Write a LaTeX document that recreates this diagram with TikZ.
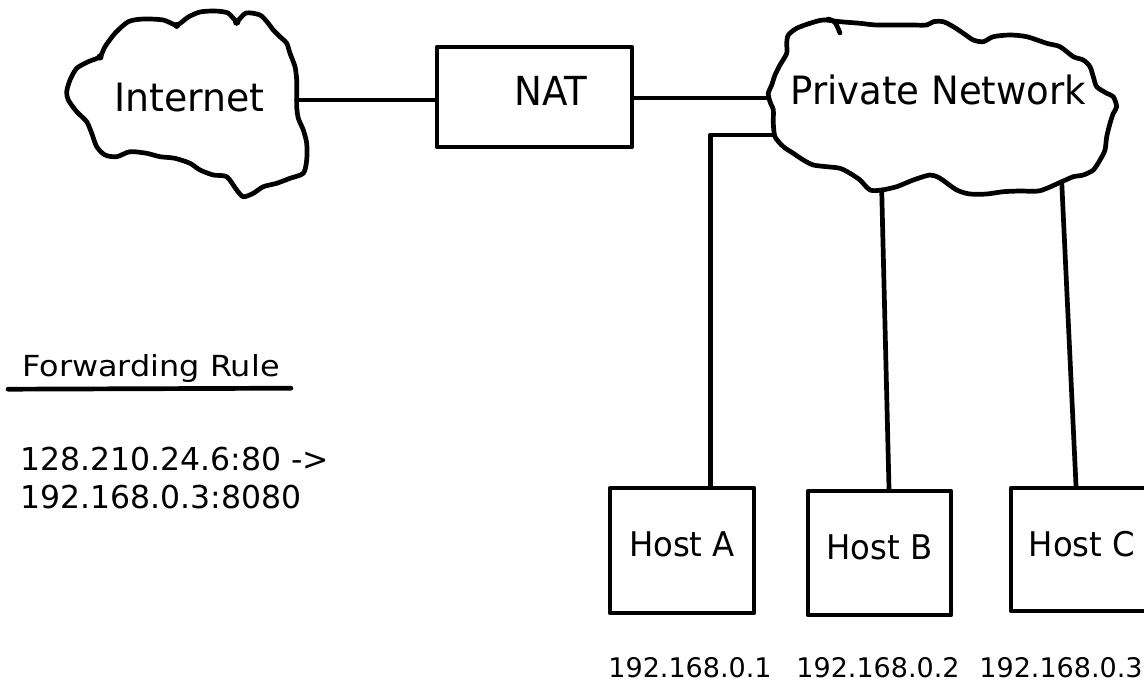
\documentclass[tikz,border=0pt]{standalone}
\usepackage{fontspec}
\setmainfont{DejaVu Sans}
\usetikzlibrary{calc}
\newcommand{\tx}[3]{\scalebox{#2}[1]{\fontsize{#1}{#1}\selectfont #3}}
\begin{document}
\begin{tikzpicture}[x=1pt,y=-1pt, line width=4.7pt, line join=round, line cap=round,
  box/.style={draw, rectangle, inner sep=0pt, line width=4.7pt},
  lbl/.style={inner sep=0pt, anchor=base},
  cloud/.style={line width=4.7pt}]
\useasboundingbox (0,0) rectangle (1144,685);

% Internet cloud
\draw[cloud] plot[smooth cycle, tension=0.45] coordinates {
(100,56.7) (105,46.7) (115,33.3) (128.3,21.7) (143.3,19) (163.3,20) (176.7,25)
(188.3,17) (200,12) (215,11) (228,13) (236.7,21) (246,13) (260,15) (268,23)
(273.3,30) (280,36.7) (286.7,43.3) (290,53.3) (295,66.7) (296.7,80) (296.7,93.3)
(296.7,106.7) (298.3,118.3) (303.3,130) (306.7,143.3) (306.7,160) (303.3,173.3)
(290,178.3) (276.7,183.3) (263.3,186.7) (253.3,193.3) (243.3,196.7) (236.7,190)
(226.7,176.7) (213.3,175) (200,170) (190,163.3) (175,158.3) (160,156.7)
(146.7,153.3) (130,151.7) (116.7,156.7) (105,155) (96.7,146.7) (91.7,133.3)
(86.7,121.7) (76.7,111.7) (68.3,100) (66.7,91.7) (70,80) (76.7,68.3) (88.3,61.7)};
\fill (100,57) circle (3.6);
\fill (176.7,25.5) circle (3.4);
\fill (236.7,22) circle (3.8);

% Private network cloud
\draw[cloud] plot[smooth cycle, tension=0.45] coordinates {
(823.3,20) (810,23.3) (796.7,28.3) (788.3,35) (786.7,43.3) (786.7,53.3) (780,65)
(775,75) (771.7,85) (768.3,93.3) (770,101.7) (773.3,110) (773.3,123.3) (775,136.7)
(783.3,146.7) (793.3,153.3) (803.3,160) (813.3,165) (826.7,166.7) (840,168.3)
(850,173.3) (860,180) (870,190) (881.7,190) (896.7,186.7) (913.3,180) (930,175)
(940,178.3) (956.7,190) (970,194) (986.7,194) (1003.3,191.7) (1020,191)
(1040,190.7) (1061.7,181.7) (1073.3,176.7) (1083.3,175) (1093.3,170) (1100,160)
(1105,150) (1106.7,136.7) (1110,123.3) (1113.3,113.3) (1116.7,106.7) (1113.3,96.7)
(1106.7,93.3) (1096.7,86.7) (1093.3,76.7) (1090,66.7) (1083.3,60) (1073.3,56.7)
(1060,46.7) (1046.7,43.3) (1026.7,36.7) (1010,35) (993.3,36.7) (983.3,41.7)
(973.3,40) (963.3,33.3) (953.3,26.7) (943.3,21.7) (933.3,21.7) (926.7,25)
(910,25) (876.7,25) (860,23.3) (840,21.7)};
\draw[cloud] (828,19) .. controls (835,21) .. (840,33);

% text in clouds
\node[lbl] (inettext) at (189.2,111.7) {\tx{39}{0.97}{Internet}};
\node[lbl] (pntext) at (938.3,105) {\tx{39}{0.95}{Private Network}};

% NAT box
\node[box, minimum width=195pt, minimum height=100pt, text depth=11.2pt] (nat) at (534.5,97)
  {\hspace*{32.6pt}\tx{40}{0.93}{NAT}};

% hosts
\node[box, minimum width=144pt, minimum height=125pt, text depth=12pt] (hostA) at (682,550.5)
  {\tx{34}{0.95}{Host A}};
\node[box, minimum width=143pt, minimum height=124pt, text depth=12pt] (hostB) at (879.5,553)
  {\tx{34}{0.95}{Host B}};
\node[box, minimum width=142pt, minimum height=123pt, text depth=12pt] (hostC) at (1082,549.5)
  {\tx{34}{0.95}{Host C}};

% IP labels
\node[lbl] (ipA) at (690,677) {\tx{27}{1}{192.168.0.1}};
\node[lbl] (ipB) at (878,677) {\tx{27}{1}{192.168.0.2}};
\node[lbl] (ipC) at (1061,677) {\tx{27}{1}{192.168.0.3}};

% connection points on clouds
\coordinate (inetR) at (296.7,100);
\coordinate (pnL) at (766,98);
\coordinate (pnA) at (773.3,135);
\coordinate (pnB) at (881.7,190);
\coordinate (pnC) at (1061.7,181.7);

% connectors
\draw (inetR) -- (inetR -| nat.west);
\draw (nat.east |- pnL) -- (pnL);
\draw (pnA) -| ($(hostA.north west)!0.69!(hostA.north east)$);
\draw (pnB) -- ($(hostB.north)+(9.5,0)$);
\draw (pnC) -- ($(hostC.north)+(-6,0)$);

% forwarding rule
\node[lbl] (fwd) at (151,376.7) {\tx{29}{1.1}{Forwarding Rule}};
\draw ($(fwd.base west)+(-12,12.5)$) -- ($(fwd.base east)+(9,11.5)$);
\node[inner sep=0pt, anchor=base west, align=left, font=\fontsize{31.5}{38}\selectfont] (rule) at (18,508)
  {128.210.24.6:80 ->\\192.168.0.3:8080};
\end{tikzpicture}
\end{document}
